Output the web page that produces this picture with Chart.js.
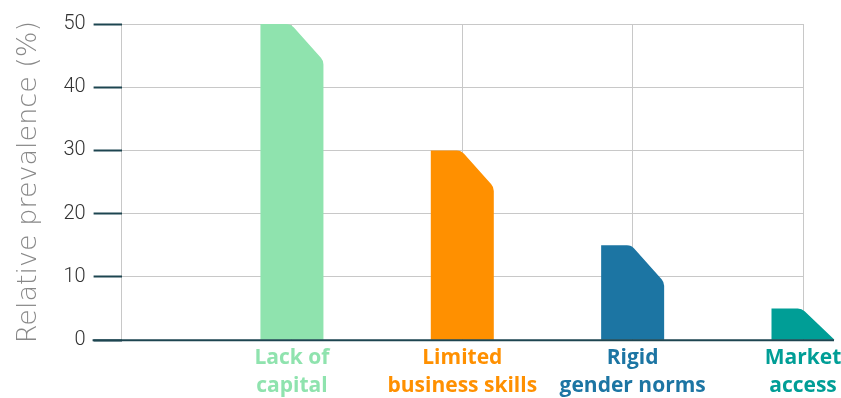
<!DOCTYPE html>
<html>
<head>
<meta charset="utf-8">
<script src="https://cdn.jsdelivr.net/npm/chart.js@4/dist/chart.umd.min.js"></script>
<style>
html,body{margin:0;padding:0;background:#fff;}
#wrap{width:841px;height:398px;position:relative;}
</style>
</head>
<body>
<div id="wrap"><canvas id="c"></canvas></div>
<script>
const categories = [[""], ["Lack of", "capital"], ["Limited", "business skills"], ["Rigid", "gender norms"], ["Market", "access"]];
const values = [null, 50, 30, 15, 5];
const barColors = ["#ffffff", "#8fe3ae", "#ff9000", "#1c75a3", "#009e96"];
const yTicks = [0, 10, 20, 30, 40, 50];

const shapedBars = {
  id: 'shapedBars',
  afterDatasetsDraw(chart) {
    const ctx = chart.ctx;
    const meta = chart.getDatasetMeta(0);
    meta.data.forEach((el, i) => {
      if (values[i] == null) return;
      const p = el.getProps(['x', 'y', 'base', 'width'], true);
      const L = p.x - p.width / 2, R = p.x + p.width / 2, T = p.y, B = p.base;
      const cw = p.width * 0.52;
      const ch = Math.min(cw * 1.12, B - T);
      const r = 10;
      ctx.save();
      ctx.fillStyle = barColors[i];
      ctx.beginPath();
      ctx.moveTo(L, B);
      ctx.lineTo(L, T);
      ctx.arcTo(R - cw, T, R, T + ch, r);
      if (ch < B - T) {
        ctx.arcTo(R, T + ch, R, B, r);
      } else {
        ctx.lineTo(R, B);
      }
      ctx.lineTo(R, B);
      ctx.closePath();
      ctx.fill();
      ctx.restore();
    });
  },
  afterDraw(chart) {
    const ctx = chart.ctx;
    const y0 = chart.scales.y.getPixelForValue(0);
    ctx.save();
    ctx.strokeStyle = '#1d4550';
    ctx.lineWidth = 2;
    ctx.beginPath();
    ctx.moveTo(chart.chartArea.left - 29, y0);
    ctx.lineTo(chart.chartArea.right + 31, y0);
    ctx.stroke();
    ctx.restore();
  }
};

new Chart(document.getElementById('c'), {
  type: 'bar',
  data: {
    labels: categories,
    datasets: [{
      data: values,
      backgroundColor: 'rgba(0,0,0,0)',
      barThickness: 63
    }]
  },
  plugins: [shapedBars],
  options: {
    responsive: true,
    maintainAspectRatio: false,
    animation: false,
    events: [],
    layout: { padding: { top: 24, right: 0, left: 13, bottom: -6 } },
    plugins: { legend: { display: false }, tooltip: { enabled: false } },
    scales: {
      x: {
        offset: false,
        afterFit: (s) => { s.paddingRight = 38; s.paddingLeft = 0; },
        grid: { color: '#c8c8c8', lineWidth: 1, drawTicks: false, offset: false },
        border: { display: false },
        ticks: {
          padding: 4,
          maxRotation: 0,
          autoSkip: false,
          color: (c) => barColors[c.index],
          font: { family: 'Open Sans', size: 21, weight: 'bold', lineHeight: 1.33 }
        }
      },
      y: {
        min: 0, max: 50,
        afterBuildTicks: (s) => { s.ticks = yTicks.map(v => ({ value: v })); },
        grid: { color: '#c8c8c8', lineWidth: 1, tickColor: '#1d4550', tickWidth: 2, tickLength: 28 },
        border: { display: false },
        ticks: {
          padding: 8,
          color: '#333333',
          font: { family: 'Roboto', size: 20, weight: '300' }
        },
        title: {
          display: true,
          text: 'Relative prevalence (%)',
          color: '#888888',
          padding: { top: 0, bottom: 10 },
          font: { family: 'DejaVu Sans', size: 27, weight: '200' }
        }
      }
    }
  }
});
</script>
</body>
</html>
